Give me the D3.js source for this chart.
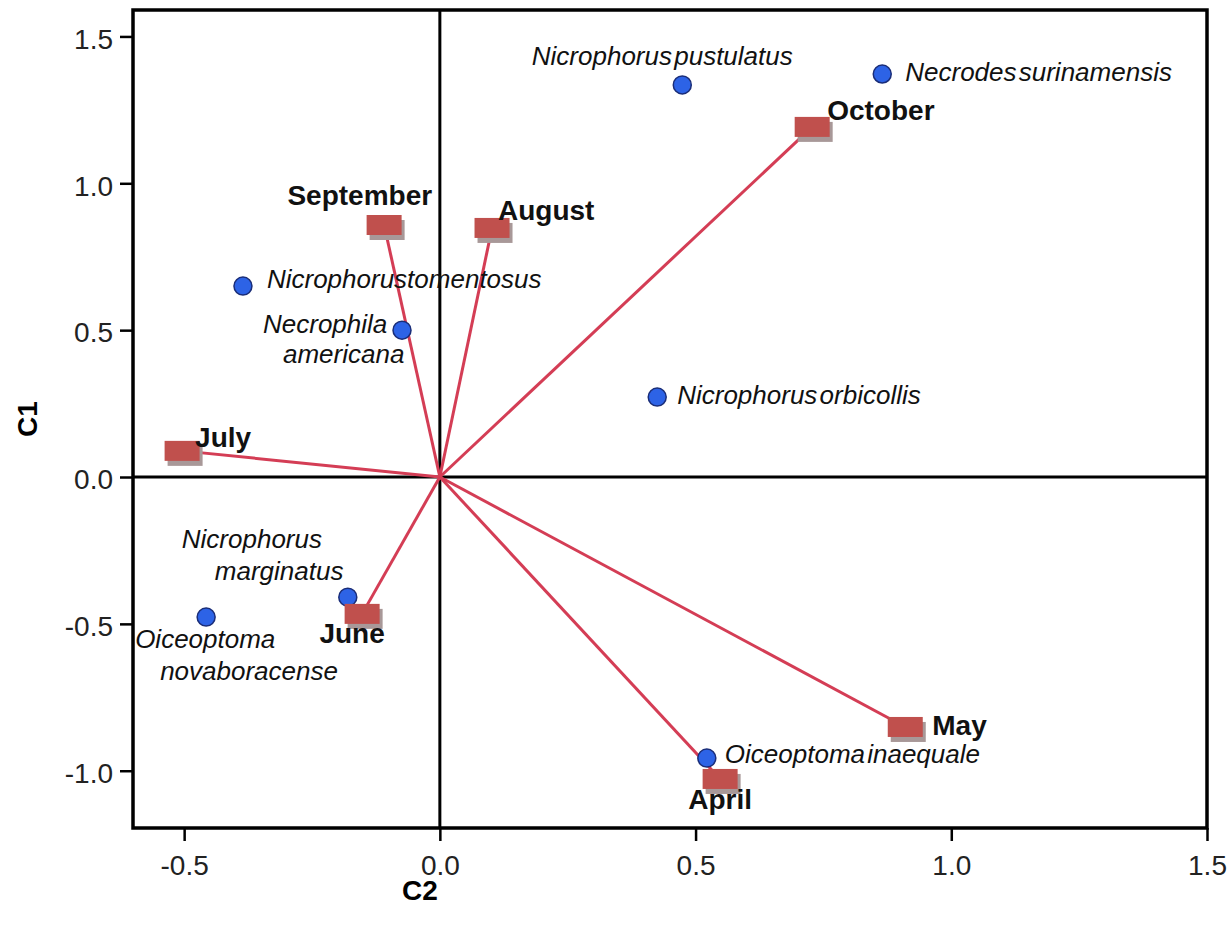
<!DOCTYPE html>
<html>
<head>
<meta charset="utf-8">
<script src="https://cdn.jsdelivr.net/npm/d3@7"></script>
<style>
  body { margin: 0; background: #fff; }
  svg { display: block; font-family: Arial, "Liberation Sans", sans-serif; }
</style>
</head>
<body>
<div id="chart"></div>
<script>
// Month scores (squares joined to the origin)
const months = ["April", "May", "June", "July", "August", "September", "October"];
const monthC2 = [0.548, 0.910, -0.152, -0.504, 0.102, -0.109, 0.728];
const monthC1 = [-1.028, -0.851, -0.466, 0.089, 0.848, 0.858, 1.192];

// Species scores (blue dots)
const species = ["Nicrophorus pustulatus", "Necrodes surinamensis", "Nicrophorustomentosus",
  "Necrophila americana", "Nicrophorus orbicollis", "Nicrophorus marginatus",
  "Oiceoptoma novaboracense", "Oiceoptoma inaequale"];
const speciesC2 = [0.474, 0.865, -0.385, -0.074, 0.425, -0.180, -0.457, 0.522];
const speciesC1 = [1.335, 1.372, 0.650, 0.500, 0.272, -0.409, -0.477, -0.957];

const xTicks = [-0.5, 0.0, 0.5, 1.0, 1.5];
const yTicks = [-1.0, -0.5, 0.0, 0.5, 1.0, 1.5];

// label placement (pixel offsets from the mark)
const monthLabelPos = {
  April: { dx: 0, dy: 30, anchor: "middle" },
  May: { dx: 27, dy: 8, anchor: "start" },
  June: { dx: -10, dy: 29, anchor: "middle" },
  July: { dx: 13, dy: -4, anchor: "start" },
  August: { dx: 6, dy: -8, anchor: "start" },
  September: { dx: 48, dy: -20, anchor: "end" },
  October: { dx: 15, dy: -7, anchor: "start" }
};
const speciesLabelPos = {
  "Nicrophorus pustulatus": [{ dx: -20, dy: -20, anchor: "middle" }],
  "Necrodes surinamensis": [{ dx: 23, dy: 7 }],
  "Nicrophorustomentosus": [{ dx: 24, dy: 2 }],
  "Necrophila americana": [{ dx: -139, dy: 3 }, { dx: -119, dy: 33 }],
  "Nicrophorus orbicollis": [{ dx: 20, dy: 7 }],
  "Nicrophorus marginatus": [{ dx: -166, dy: -49 }, { dx: -133, dy: -17 }],
  "Oiceoptoma novaboracense": [{ dx: -71, dy: 31 }, { dx: -46, dy: 63 }],
  "Oiceoptoma inaequale": [{ dx: 18, dy: 5 }]
};

const width = 1232, height = 928;
const margin = { top: 10, right: 25, bottom: 100, left: 133 };

const svg = d3.select("#chart").append("svg")
  .attr("width", width)
  .attr("height", height);

const x = d3.scaleLinear().domain([-0.6, 1.5]).range([margin.left, width - margin.right]);
const y = d3.scaleLinear().domain([-1.195, 1.59]).range([height - margin.bottom, margin.top]);

// plain hyphen for negatives, like the original
const fmt = d => d3.format(".1f")(d).replace("\u2212", "-");

// axes
const xAxis = svg.append("g")
  .attr("transform", `translate(0,${y.range()[0]})`)
  .call(d3.axisBottom(x).tickValues(xTicks).tickFormat(fmt).tickSize(13).tickSizeOuter(0).tickPadding(14));
const yAxis = svg.append("g")
  .attr("transform", `translate(${x.range()[0]},0)`)
  .call(d3.axisLeft(y).tickValues(yTicks).tickFormat(fmt).tickSize(13).tickSizeOuter(0).tickPadding(7));

[xAxis, yAxis].forEach(g => {
  g.select(".domain").remove();
  g.selectAll(".tick line").attr("stroke", "#000").attr("stroke-width", 2.5);
  g.selectAll(".tick text")
    .attr("fill", "#222")
    .style("font-size", "28px")
    .style("font-family", "Arial, 'Liberation Sans', sans-serif");
});
yAxis.selectAll(".tick text").attr("dy", "0.42em");

// zero lines
svg.append("line")
  .attr("x1", x(0)).attr("x2", x(0))
  .attr("y1", y.range()[1]).attr("y2", y.range()[0])
  .attr("stroke", "#000").attr("stroke-width", 3);
svg.append("line")
  .attr("x1", x.range()[0]).attr("x2", x.range()[1])
  .attr("y1", y(0)).attr("y2", y(0))
  .attr("stroke", "#000").attr("stroke-width", 3);

// frame
svg.append("rect")
  .attr("x", x.range()[0]).attr("y", y.range()[1])
  .attr("width", x.range()[1] - x.range()[0])
  .attr("height", y.range()[0] - y.range()[1])
  .attr("fill", "none").attr("stroke", "#000").attr("stroke-width", 3.5);

// axis titles
svg.append("text")
  .attr("x", 420).attr("y", 900)
  .attr("text-anchor", "middle")
  .style("font-size", "28px").style("font-weight", "bold")
  .text("C2");
svg.append("text")
  .attr("transform", `translate(37,${(y.range()[0] + y.range()[1]) / 2}) rotate(-90)`)
  .attr("text-anchor", "middle")
  .style("font-size", "28px").style("font-weight", "bold")
  .text("C1");

const monthData = months.map((m, i) => ({ name: m, c2: monthC2[i], c1: monthC1[i] }));
const speciesData = species.map((s, i) => ({ name: s, c2: speciesC2[i], c1: speciesC1[i] }));

// vectors from origin
svg.append("g").selectAll("line")
  .data(monthData)
  .join("line")
  .attr("x1", x(0)).attr("y1", y(0))
  .attr("x2", d => x(d.c2)).attr("y2", d => y(d.c1))
  .attr("stroke", "#d43d55")
  .attr("stroke-width", 3);

// species dots
svg.append("g").selectAll("circle")
  .data(speciesData)
  .join("circle")
  .attr("cx", d => x(d.c2)).attr("cy", d => y(d.c1))
  .attr("r", 9)
  .attr("fill", "#2d63e6")
  .attr("stroke", "#1a2d78")
  .attr("stroke-width", 1.5);

// month squares with shadow
const sqW = 35, sqH = 20;
const sq = svg.append("g").selectAll("g")
  .data(monthData)
  .join("g")
  .attr("transform", d => `translate(${x(d.c2)},${y(d.c1)})`);
sq.append("rect")
  .attr("x", -sqW / 2 + 3).attr("y", -sqH / 2 + 5)
  .attr("width", sqW).attr("height", sqH)
  .attr("fill", "#a89898");
sq.append("rect")
  .attr("x", -sqW / 2).attr("y", -sqH / 2)
  .attr("width", sqW).attr("height", sqH)
  .attr("fill", "#c0504d");

// month labels
svg.append("g").selectAll("text")
  .data(monthData)
  .join("text")
  .attr("x", d => x(d.c2) + monthLabelPos[d.name].dx)
  .attr("y", d => y(d.c1) + monthLabelPos[d.name].dy)
  .attr("text-anchor", d => monthLabelPos[d.name].anchor)
  .attr("fill", "#111")
  .style("font-size", "28px")
  .style("font-weight", "bold")
  .text(d => d.name);

// species labels
const spLabels = svg.append("g");
speciesData.forEach(d => {
  const pos = speciesLabelPos[d.name];
  const lines = pos.length > 1 ? d.name.split(" ") : [d.name];
  lines.forEach((txt, k) => {
    spLabels.append("text")
      .attr("x", x(d.c2) + pos[k].dx)
      .attr("y", y(d.c1) + pos[k].dy)
      .attr("text-anchor", pos[k].anchor || "start")
      .attr("fill", "#111")
      .style("font-size", "26px")
      .style("font-style", "italic")
      .style("word-spacing", "-5px")
      .text(txt);
  });
});
</script>
</body>
</html>
